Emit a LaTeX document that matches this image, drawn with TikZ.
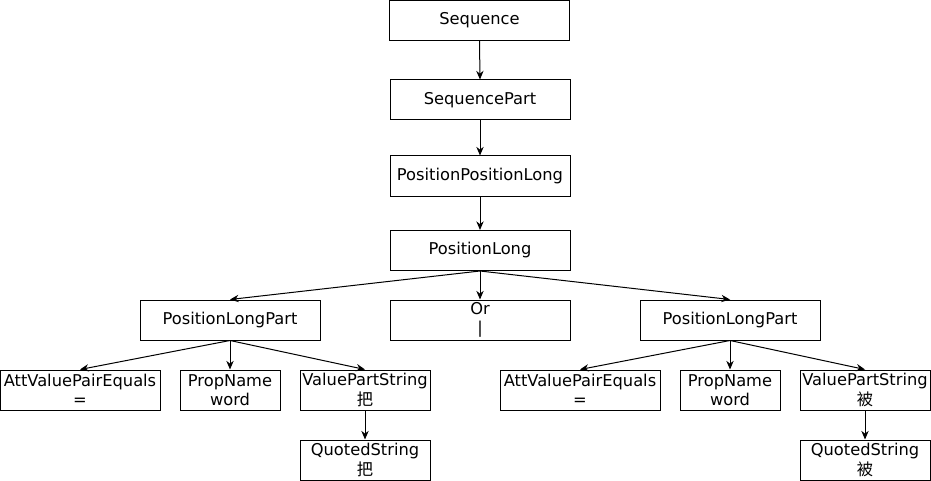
\documentclass[tikz,border=0pt]{standalone}
\usepackage{fontspec}
\setmainfont{DejaVu Sans}
\newfontfamily\cjk{Noto Sans CJK SC}
\usetikzlibrary{arrows.meta}

\tikzset{
  box/.style={draw, line width=0.75pt, inner sep=0pt, minimum height=30pt, align=center,
    font=\fontsize{12.2}{14.6}\selectfont},
  widebox/.style={box, minimum width=135pt},
  midbox/.style={box, minimum width=120pt},
  valbox/.style={box, minimum width=97.5pt},
  namebox/.style={box, minimum width=75pt},
  link/.style={line width=0.75pt, -{Stealth[length=6.5pt,width=5.5pt]}},
}

\begin{document}
\begin{tikzpicture}[x=0.75pt,y=0.75pt,yscale=-1]
\useasboundingbox (0,0) rectangle (931,481);

% top chain
\node [widebox] (seq) at (479.5,20.5) {Sequence};
\node [widebox] (seqpart) at (480,100) {SequencePart};
\node [widebox] (pospos) at (480,176) {PositionPositionLong};
\node [widebox] (poslong) at (480,250.5) {PositionLong};

% second row
\node [widebox] (partL) at (230,320) {PositionLongPart};
\node [widebox] (orbox) at (480,320) {Or\\|};
\node [widebox] (partR) at (730,320) {PositionLongPart};

% left leaves
\node [midbox] (attL) at (80,390) {AttValuePairEquals\\=};
\node [namebox] (propL) at (230,390) {PropName\\word};
\node [valbox] (valL) at (365,390) {ValuePartString\\{\cjk 把}};
\node [valbox] (quoL) at (365,460) {QuotedString\\{\cjk 把}};

% right leaves
\node [midbox] (attR) at (580,390) {AttValuePairEquals\\=};
\node [namebox] (propR) at (730,390) {PropName\\word};
\node [valbox] (valR) at (865,390) {ValuePartString\\{\cjk 被}};
\node [valbox] (quoR) at (865,460) {QuotedString\\{\cjk 被}};

% connectors
\draw [link] (seq.south) -- (seqpart.north);
\draw [link] (seqpart.south) -- (pospos.north);
\draw [link] (pospos.south) -- (poslong.north);
\draw [link] (poslong.south) -- (partL.north);
\draw [link] (poslong.south) -- (orbox.north);
\draw [link] (poslong.south) -- (partR.north);

\draw [link] (partL.south) -- (attL.north);
\draw [link] (partL.south) -- (propL.north);
\draw [link] (partL.south) -- (valL.north);
\draw [link] (valL.south) -- (quoL.north);

\draw [link] (partR.south) -- (attR.north);
\draw [link] (partR.south) -- (propR.north);
\draw [link] (partR.south) -- (valR.north);
\draw [link] (valR.south) -- (quoR.north);

\end{tikzpicture}
\end{document}
